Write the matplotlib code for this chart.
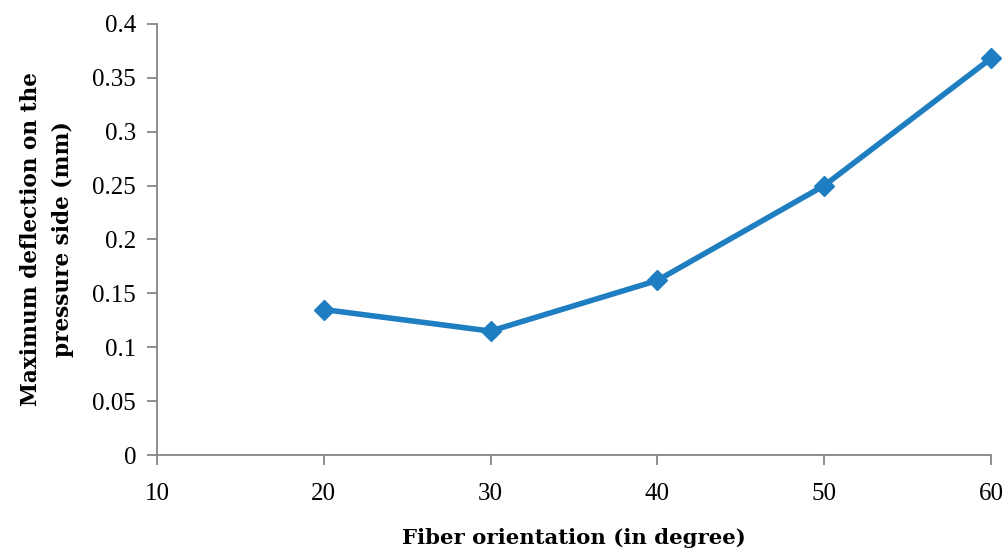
import matplotlib
matplotlib.use('Agg')
import matplotlib.pyplot as plt

# Data
fiber_angle = [20, 30, 40, 50, 60]
max_deflection = [0.135, 0.115, 0.162, 0.25, 0.368]
x_ticks = [10, 20, 30, 40, 50, 60]
y_ticks = [0, 0.05, 0.1, 0.15, 0.2, 0.25, 0.3, 0.35, 0.4]
y_tick_labels = ['0', '0.05', '0.1', '0.15', '0.2', '0.25', '0.3', '0.35', '0.4']

plt.rcParams['font.family'] = ['Liberation Serif', 'DejaVu Serif']
grey = '#868686'

fig = plt.figure(figsize=(10.06, 5.54), dpi=100)
ax = fig.add_axes([0.156, 0.1787, 0.829, 0.778])

ax.plot(fiber_angle, max_deflection, color='#1f7ec1', linewidth=4,
        marker='D', markersize=10, clip_on=False)

ax.set_xlim(10, 60)
ax.set_ylim(0, 0.4)
ax.set_xticks(x_ticks)
ax.set_yticks(y_ticks)
ax.set_yticklabels(y_tick_labels)

for side in ['top', 'right']:
    ax.spines[side].set_visible(False)
for side in ['left', 'bottom']:
    ax.spines[side].set_color(grey)
    ax.spines[side].set_linewidth(1.3)
ax.tick_params(direction='out', length=7, width=1.3, color=grey,
               labelsize=18)
ax.tick_params(axis='x', pad=13)
ax.tick_params(axis='y', pad=8)

# axis titles: wider bold serif, closer to the original's Palatino
ax.set_xlabel('Fiber orientation (in degree)', family='DejaVu Serif', fontsize=15.3,
              fontweight='bold', labelpad=17)
ax.set_ylabel('Maximum deflection on the\npressure side (mm)', family='DejaVu Serif',
              fontsize=15.6, fontweight='bold', labelpad=13, linespacing=1.6)

fig.savefig('out.png', dpi=100)
